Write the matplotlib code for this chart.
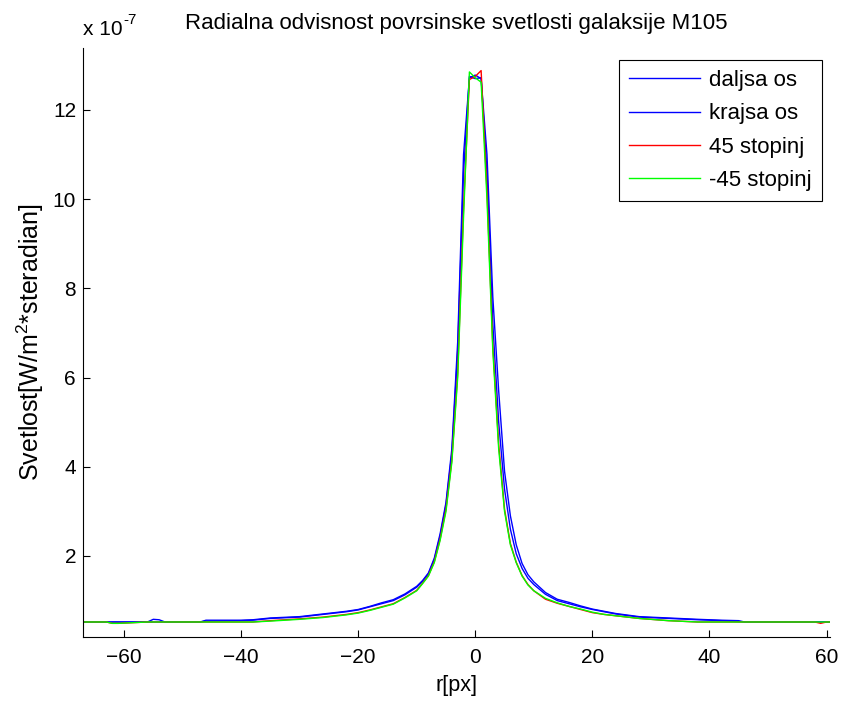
import matplotlib
matplotlib.use('Agg')
import matplotlib.pyplot as plt
import numpy as np

plt.rcParams['font.family'] = ['Liberation Sans', 'DejaVu Sans']
plt.rcParams['mathtext.fontset'] = 'custom'
plt.rcParams['mathtext.rm'] = 'Liberation Sans'

# radius in px (shared sample points)
r = [-67, -63, -62, -61, -56, -55, -54, -53, -47, -46, -40, -38, -35, -30, -26, -22,
     -20, -18, -16, -14, -12, -10, -9, -8, -7, -6, -5, -4, -3, -2, -1, 0,
     1, 2, 3, 4, 5, 6, 7, 8, 9, 10, 12, 14, 16, 18, 20, 22, 24, 28, 33, 38,
     42, 45, 46, 50, 58, 59, 60, 61]

# brightness in units of 1e-7 W/m^2/sr
daljsa = [0.52, 0.52, 0.52, 0.52, 0.52, 0.58, 0.57, 0.52, 0.52, 0.56, 0.56, 0.57, 0.61, 0.64, 0.70, 0.76,
          0.80, 0.87, 0.95, 1.02, 1.15, 1.32, 1.45, 1.62, 1.95, 2.50, 3.20, 4.40, 6.80, 11.0, 12.72, 12.78,
          12.70, 11.0, 7.8, 5.7, 3.9, 2.9, 2.25, 1.83, 1.58, 1.42, 1.18, 1.03, 0.96, 0.88, 0.81, 0.76, 0.71, 0.64, 0.61, 0.58,
          0.56, 0.55, 0.52, 0.52, 0.52, 0.52, 0.52, 0.52]
krajsa = [0.52, 0.52, 0.52, 0.52, 0.52, 0.52, 0.52, 0.52, 0.52, 0.54, 0.55, 0.56, 0.60, 0.63, 0.69, 0.75,
          0.79, 0.86, 0.93, 1.00, 1.13, 1.30, 1.43, 1.60, 1.92, 2.45, 3.15, 4.30, 6.60, 10.6, 12.75, 12.70,
          12.72, 10.6, 7.2, 5.0, 3.5, 2.6, 2.05, 1.72, 1.50, 1.36, 1.14, 1.00, 0.93, 0.86, 0.80, 0.75, 0.70, 0.63, 0.60, 0.57,
          0.55, 0.53, 0.52, 0.52, 0.52, 0.52, 0.52, 0.52]
st45 = [0.52, 0.52, 0.49, 0.49, 0.52, 0.52, 0.52, 0.52, 0.52, 0.52, 0.52, 0.52, 0.55, 0.59, 0.63, 0.69,
        0.73, 0.79, 0.86, 0.93, 1.07, 1.23, 1.39, 1.56, 1.87, 2.38, 3.05, 4.15, 6.10, 9.8, 12.68, 12.75,
        12.88, 10.2, 6.7, 4.5, 3.05, 2.28, 1.86, 1.56, 1.36, 1.22, 1.03, 0.94, 0.87, 0.80, 0.73, 0.69, 0.66, 0.60, 0.55, 0.52,
        0.52, 0.52, 0.52, 0.52, 0.52, 0.49, 0.52, 0.52]
stm45 = [0.52, 0.52, 0.49, 0.49, 0.52, 0.52, 0.52, 0.52, 0.52, 0.52, 0.52, 0.52, 0.54, 0.58, 0.62, 0.68,
         0.72, 0.78, 0.85, 0.92, 1.06, 1.22, 1.38, 1.55, 1.85, 2.35, 3.00, 4.10, 6.00, 9.6, 12.85, 12.72,
         12.62, 10.0, 6.6, 4.4, 3.00, 2.25, 1.85, 1.55, 1.35, 1.22, 1.05, 0.95, 0.87, 0.81, 0.74, 0.69, 0.66, 0.60, 0.55, 0.52,
         0.52, 0.52, 0.52, 0.52, 0.52, 0.52, 0.52, 0.52]

fig = plt.figure(figsize=(8.43, 7.01), dpi=100)
ax = fig.add_axes([0.0985, 0.0917, 0.8861, 0.8394])

ax.plot(r, daljsa, color='#0000ff', lw=1.0, label='daljsa os')
ax.plot(r, krajsa, color='#0000ff', lw=1.0, label='krajsa os')
ax.plot(r, st45, color='#ff0000', lw=1.0, label='45 stopinj')
ax.plot(r, stm45, color='#00ff00', lw=1.0, label='-45 stopinj')

ax.set_xlim(-67, 60.6)
ax.set_ylim(0.19, 13.38)
ax.set_xticks([-60, -40, -20, 0, 20, 40, 60])
ax.set_yticks([2, 4, 6, 8, 10, 12])
ax.spines['top'].set_visible(False)
ax.spines['right'].set_visible(False)
ax.tick_params(direction='in', length=5, width=0.8, labelsize=15)
ax.tick_params(axis='x', pad=8)
ax.tick_params(axis='y', pad=5)

ax.set_title('Radialna odvisnost povrsinske svetlosti galaksije M105', fontsize=16, pad=14)
ax.set_xlabel('r[px]', fontsize=15.5, labelpad=6)
ax.set_ylabel(r'Svetlost[W/m$\mathregular{^2}$*steradian]', fontsize=18, labelpad=5)
fig.text(83 / 843, 1 - 35 / 701, 'x 10', fontsize=15, ha='left', va='baseline')
fig.text(123 / 843, 1 - 24 / 701, '-7', fontsize=11, ha='left', va='baseline')

leg = ax.legend(loc='upper right', bbox_to_anchor=(0.989, 0.980), borderaxespad=0,
                fontsize=16, handlelength=3.2, handletextpad=0.4, labelspacing=0.55,
                borderpad=0.45, fancybox=False, framealpha=1, edgecolor='black')
leg.get_frame().set_linewidth(0.8)

fig.savefig('out.png', dpi=100)
